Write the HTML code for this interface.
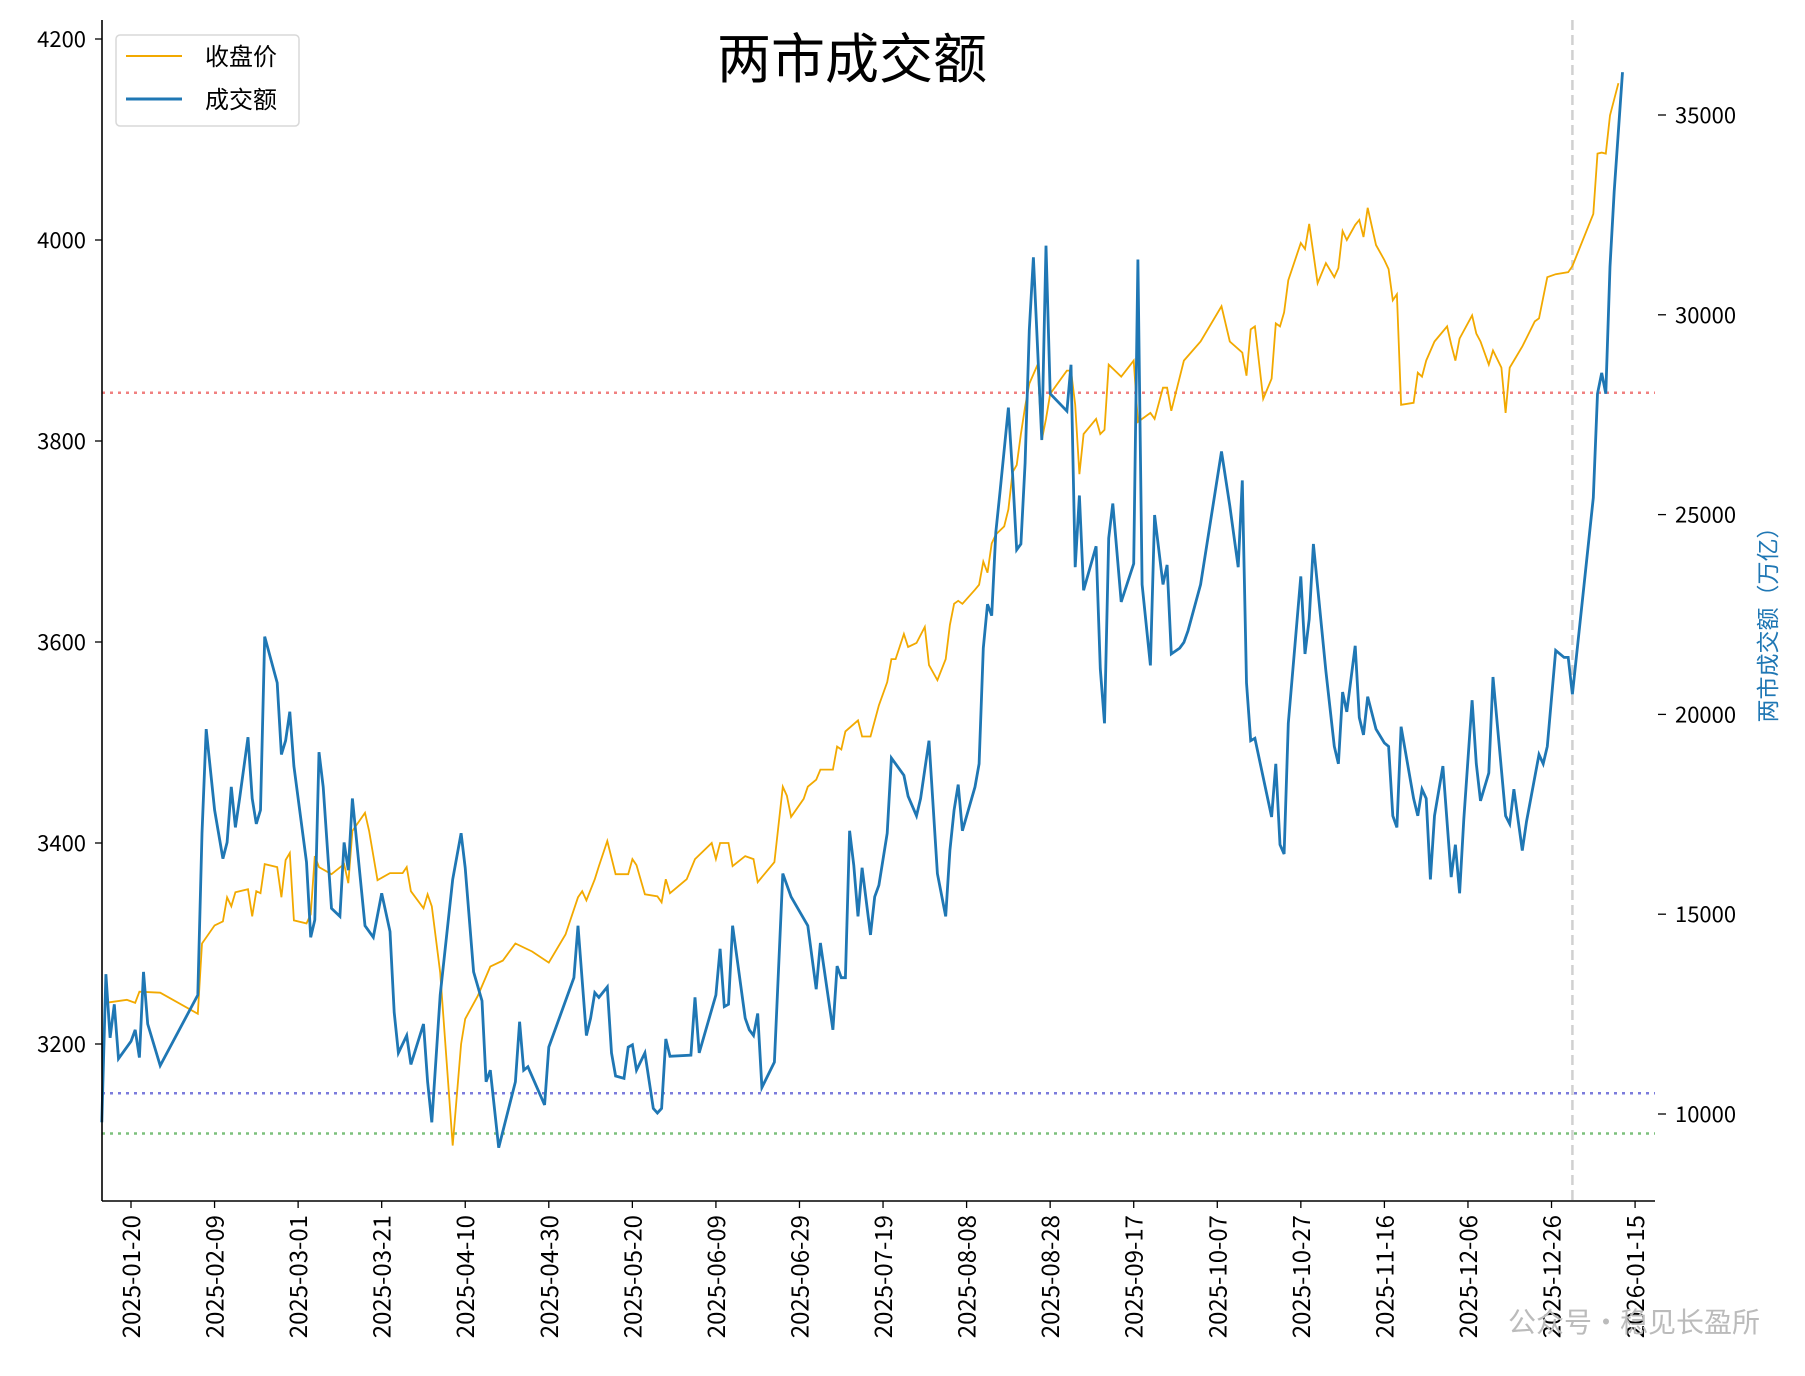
<!DOCTYPE html>
<html><head><meta charset="utf-8"><style>
body{margin:0;background:#fff;}
svg{display:block;font-family:"Noto Sans CJK SC","Liberation Sans",sans-serif;}
</style></head><body>
<svg id="c" width="1805" height="1376" viewBox="0 0 1805 1376"></svg>
<script>
const tickDays=[0,20,40,60,80,100,120,140,160,180,200,220,240,260,280,300,320,340,360];
const leftTicks=[3200,3400,3600,3800,4000,4200];
const rightTicks=[10000,15000,20000,25000,30000,35000];
const refLines=[{v:3848,c:"#f08080"},{v:3151,c:"#7b7bdc"},{v:3111,c:"#7cc07c"}];
const markerDay=345;
const priceDays=[-6,-1,1,2,7,16,17,20,22,23,24,25,28,29,30,31,32,35,36,37,38,39,42,43,44,45,48,51,52,53,56,57,59,62,65,66,67,70,71,72,74,77,79,80,83,86,89,92,96,100,104,107,108,109,111,112,114,116,119,120,121,123,126,127,128,129,133,135,139,140,141,143,144,147,149,150,154,156,157,158,161,162,164,165,168,169,170,171,174,175,177,179,181,182,183,185,186,188,190,191,193,195,196,197,198,199,202,203,204,205,206,207,209,210,211,212,213,214,215,217,218,219,220,224,225,226,227,228,231,232,233,234,237,240,241,244,245,247,248,249,252,256,261,263,266,267,268,269,271,273,274,275,276,277,280,281,282,284,286,288,289,290,291,293,294,295,296,298,300,301,302,303,304,307,308,309,310,312,315,316,317,318,321,322,323,325,326,328,329,330,331,333,336,337,339,341,344,345,350,351,352,353,354,356];
const priceValues=[3241,3244,3241,3252,3251,3230,3300,3318,3322,3346,3337,3351,3354,3327,3352,3350,3379,3376,3346,3383,3390,3323,3320,3329,3387,3376,3369,3379,3360,3412,3430,3412,3363,3370,3370,3376,3352,3335,3349,3337,3271,3099,3200,3225,3248,3277,3283,3300,3292,3281,3309,3346,3352,3343,3364,3377,3402,3369,3369,3384,3378,3349,3347,3341,3364,3350,3364,3384,3400,3384,3400,3400,3377,3387,3384,3361,3381,3456,3447,3426,3444,3456,3463,3473,3473,3496,3493,3511,3522,3506,3506,3537,3560,3583,3583,3608,3595,3599,3615,3577,3562,3583,3617,3638,3641,3638,3652,3657,3680,3669,3698,3707,3715,3732,3769,3776,3807,3834,3857,3876,3801,3822,3847,3870,3870,3836,3767,3807,3822,3807,3811,3876,3864,3880,3819,3828,3822,3853,3853,3830,3880,3899,3934,3899,3888,3865,3911,3914,3842,3862,3917,3914,3928,3960,3997,3991,4016,3957,3977,3963,3972,4009,4000,4015,4020,4003,4032,3995,3980,3971,3940,3946,3836,3838,3868,3864,3880,3899,3914,3896,3880,3902,3925,3907,3899,3876,3890,3873,3828,3873,3880,3894,3919,3922,3963,3966,3968,3974,4026,4086,4087,4086,4124,4156];
const volumeDays=[-7,-6,-5,-4,-3,0,1,2,3,4,7,16,17,18,20,22,23,24,25,26,28,29,30,31,32,35,36,37,38,39,42,43,44,45,46,48,50,51,52,53,56,58,60,62,63,64,66,67,70,71,72,74,77,78,79,80,82,84,85,86,88,92,93,94,95,99,100,106,107,109,110,111,112,114,115,116,118,119,120,121,123,125,126,127,128,129,134,135,136,140,141,142,143,144,147,148,149,150,151,154,156,158,162,164,165,168,169,170,171,172,173,174,175,177,178,179,181,182,185,186,188,189,190,191,193,195,196,197,198,199,202,203,204,205,206,207,208,210,211,212,213,214,215,216,218,219,220,224,225,226,227,228,231,232,233,234,235,237,240,241,242,244,245,247,248,249,251,252,253,256,261,263,265,266,267,268,269,273,274,275,276,277,280,281,282,283,286,288,289,290,291,293,294,295,296,298,300,301,302,303,304,307,308,309,310,311,312,314,316,317,318,319,321,322,323,325,326,328,329,330,331,333,334,337,338,339,341,343,344,345,350,351,352,353,354,355,357];
const volumeValues=[9793,13498,11906,12745,11385,11819,12108,11414,13556,12253,11211,12977,17028,19633,17607,16391,16796,18186,17173,17896,19430,17896,17260,17607,21948,20790,18996,19343,20067,18707,16305,14423,14857,19054,18186,15146,14944,16796,16102,17896,14713,14423,15522,14568,12542,11530,11964,11240,12253,10806,9793,12977,15870,16449,17028,16160,13556,12832,10806,11096,9157,10806,12311,11096,11182,10228,11674,13412,14713,11964,12398,13035,12919,13180,11530,10951,10893,11674,11732,11096,11530,10141,10025,10141,11877,11443,11472,12919,11530,12977,14134,12687,12745,14713,12398,12108,11964,12514,10662,11298,16016,15436,14713,13122,14279,12108,13701,13412,13412,17086,16218,14944,16160,14481,15436,15726,17028,18909,18475,17954,17462,17896,18620,19343,16016,14944,16594,17607,18244,17086,18186,18765,21659,22758,22469,24553,25566,27678,25999,24119,24264,26289,29617,31440,26868,31730,28025,27591,28749,23684,25479,23106,24206,21138,19778,24409,25277,22816,23771,31383,23250,21225,24988,23250,23742,21514,21659,21804,22093,23250,26579,25219,23684,25855,20790,19343,19401,17433,18765,16739,16507,19778,23453,21514,22382,24264,21080,19199,18765,20558,20066,21717,19922,19488,20443,19633,19285,19199,17462,17173,19691,17896,17462,18128,17896,15870,17462,18707,15929,16739,15522,17375,20356,18765,17838,18533,20935,18620,17462,17260,18128,16594,17317,18996,18765,19199,21601,21427,21427,20501,25421,28025,28546,28025,31209,33090,36071];

const NS="http://www.w3.org/2000/svg";
const svg=document.getElementById('c');
const L=102,R=1655,T=20,B=1201;
const xs=d=>131+d*4.178;
const yL=v=>39+(4200-v)*1.005;
const yR=v=>115+(35000-v)*0.03996;
function mk(t,a,p){const e=document.createElementNS(NS,t);for(const k in a)e.setAttribute(k,a[k]);(p||svg).appendChild(e);return e;}
function dateLabel(d){const dt=new Date(Date.UTC(2025,0,20+d));return dt.toISOString().slice(0,10);}

let t=mk('text',{x:852,y:78,'font-size':54,'text-anchor':'middle',fill:'#000'});t.textContent='两市成交额';



refLines.forEach(r=>{const l=mk('line',{x1:L,x2:R,y1:yL(r.v),y2:yL(r.v),stroke:r.c,'stroke-width':2.5,'stroke-dasharray':'3,5'});

});
let vl=mk('line',{x1:xs(markerDay),x2:xs(markerDay),y1:T,y2:B,stroke:'#d0d0d0','stroke-width':2.5,'stroke-dasharray':'10,5'});



let pp=priceDays.map((d,i)=>xs(d).toFixed(1)+','+yL(priceValues[i]).toFixed(1)).join(' ');
let pl=mk('polyline',{points:pp,fill:'none',stroke:'#f2a900','stroke-width':1.8});


let vp=volumeDays.map((d,i)=>xs(d).toFixed(1)+','+yR(volumeValues[i]).toFixed(1)).join(' ');
let vline=mk('polyline',{points:vp,fill:'none',stroke:'#1f77b4','stroke-width':2.8});



let a1=mk('line',{x1:L,x2:L,y1:T,y2:B,stroke:'#000','stroke-width':1.6});


let a2=mk('line',{x1:L,x2:R,y1:B,y2:B,stroke:'#000','stroke-width':1.6});


leftTicks.forEach(v=>{const y=yL(v);mk('line',{x1:L-7,x2:L,y1:y,y2:y,stroke:'#000','stroke-width':1.3});
const tx=mk('text',{x:L-16,y:y+8,'font-size':22,'text-anchor':'end'});tx.textContent=v;

});
rightTicks.forEach(v=>{const y=yR(v);mk('line',{x1:R+3,x2:R+11,y1:y,y2:y,stroke:'#000','stroke-width':1.3});
const tx=mk('text',{x:R+20,y:y+8,'font-size':22});tx.textContent=v;

});
tickDays.forEach(d=>{const x=xs(d);mk('line',{x1:x,x2:x,y1:B,y2:B+7,stroke:'#000','stroke-width':1.3});
const tx=mk('text',{x:0,y:0,'font-size':24,'text-anchor':'end',transform:`translate(${x+9},${B+14}) rotate(-90)`});tx.textContent=dateLabel(d);

});
let rt=mk('text',{x:0,y:0,'font-size':23,fill:'#1f77b4','text-anchor':'middle',transform:'translate(1776,619) rotate(-90)'});rt.textContent='两市成交额（万亿）';



let lg=mk('g',{});


mk('rect',{x:116,y:35,width:183,height:91,rx:4,fill:'#fff',stroke:'#d8d8d8','stroke-width':1.5},lg);
mk('line',{x1:126,x2:182,y1:56,y2:56,stroke:'#f2a900','stroke-width':2},lg);
let l1=mk('text',{x:205,y:65,'font-size':24},lg);l1.textContent='收盘价';


mk('line',{x1:126,x2:182,y1:99,y2:99,stroke:'#1f77b4','stroke-width':3},lg);
let l2=mk('text',{x:205,y:108,'font-size':24},lg);l2.textContent='成交额';



let wm=mk('text',{x:1760,y:1332,'font-size':28,fill:'#bbbbbb','text-anchor':'end'});wm.textContent='公众号•稳见长盈所';


</script>
</body></html>
